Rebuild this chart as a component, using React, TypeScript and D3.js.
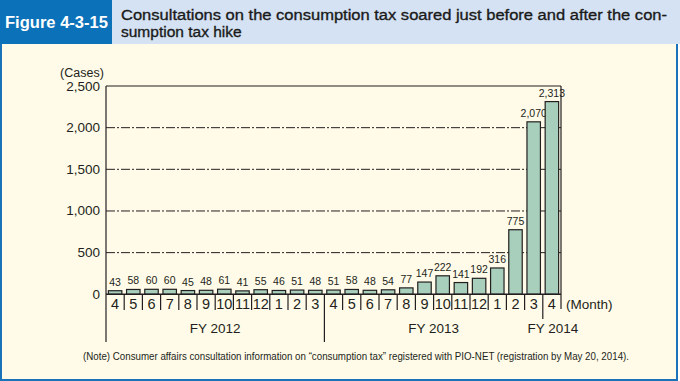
import React from "react";
import * as d3 from "d3";

const MONTHS = ["4","5","6","7","8","9","10","11","12","1","2","3","4","5","6","7","8","9","10","11","12","1","2","3","4"];
const VALUES = [43,58,60,60,45,48,61,41,55,46,51,48,51,58,48,54,77,147,222,141,192,316,775,2070,2313];
const FY_LABELS = ["FY 2012","FY 2013","FY 2014"];
const FY_START = [0,12,24];
const FY_END = [12,24,25];
const Y_TICKS = [0,500,1000,1500,2000,2500];
const TITLE_LINES = ["Consultations on the consumption tax soared just before and after the con-","sumption tax hike"];
const FIGURE_LABEL = "Figure 4-3-15";
const NOTE = "(Note) Consumer affairs consultation information on \u201cconsumption tax\u201d registered with PIO-NET (registration by May 20, 2014).";

const W = 680, H = 381;
const L = 106, R = 561, T = 86, B = 294.3;
const FONT = "'Liberation Sans', Arial, Helvetica, sans-serif";
const NARROW = "'Liberation Sans Narrow', 'Liberation Sans', Arial, sans-serif";
const INK = "#231f20";

export default function App() {
  const y = d3.scaleLinear().domain([0, 2500]).range([B, T]);
  const x = d3.scaleBand<number>().domain(d3.range(VALUES.length)).range([L, R]).padding(0);
  const step = x.step();
  const bw = step * 0.74;
  const fmt = d3.format(",");

  return (
    <svg width={W} height={H} style={{ position: "absolute", left: 0, top: 0 }} xmlns="http://www.w3.org/2000/svg">
      <rect x={0} y={0} width={W} height={H} fill="#ffffff" />
      <rect x={1} y={43} width={676} height={337} fill="#fffbe8" stroke="#1a72b8" strokeWidth={2} />
      <rect x={0} y={0} width={112} height={44} fill="#0b72b9" />
      <rect x={112} y={0} width={568} height={44} fill="#d4e2f3" />
      <text x={5} y={28} fill="#ffffff" fontFamily={NARROW} fontWeight={700} fontSize={16} textLength={103} lengthAdjust="spacingAndGlyphs">{FIGURE_LABEL}</text>
      <text x={121} y={19.5} fill="#1a1a1a" stroke="#1a1a1a" strokeWidth={0.35} fontFamily={FONT} fontSize={15.5} textLength={546} lengthAdjust="spacingAndGlyphs">{TITLE_LINES[0]}</text>
      <text x={121} y={36.5} fill="#1a1a1a" stroke="#1a1a1a" strokeWidth={0.35} fontFamily={FONT} fontSize={15.5}>{TITLE_LINES[1]}</text>

      {Y_TICKS.filter(t => t > 0 && t < 2500).map(t => (
        <line key={t} x1={L} x2={R} y1={y(t)} y2={y(t)} stroke={INK} strokeWidth={1} strokeDasharray="9,2,2,2" />
      ))}
      <line x1={L} x2={R} y1={y(2500)} y2={y(2500)} stroke={INK} strokeWidth={1.2} />
      <line x1={R} x2={R} y1={y(2500)} y2={309} stroke={INK} strokeWidth={1.2} />
      <line x1={L} x2={L} y1={y(2500)} y2={342} stroke={INK} strokeWidth={1.2} />

      <text x={82} y={77} textAnchor="middle" fill={INK} fontFamily={FONT} fontSize={12.5}>(Cases)</text>
      {Y_TICKS.map(t => (
        <text key={t} x={100} y={y(t) + 4.5} textAnchor="end" fill={INK} fontFamily={FONT} fontSize={13.5}>{fmt(t)}</text>
      ))}

      {VALUES.map((v, i) => {
        const cx = (x(i) as number) + step / 2;
        return (
          <g key={i}>
            <rect x={cx - bw / 2} y={y(v)} width={bw} height={B - y(v)} fill="#a8cfbb" stroke={INK} strokeWidth={1.2} />
            <text x={cx} y={y(v) - 5} textAnchor="middle" fill={INK} fontFamily={NARROW} fontSize={10.5}>{fmt(v)}</text>
          </g>
        );
      })}
      <line x1={L} x2={R} y1={B} y2={B} stroke={INK} strokeWidth={1.5} />

      {MONTHS.map((m, i) => {
        const x0 = x(i) as number;
        return (
          <g key={i}>
            {i > 0 && !FY_START.includes(i) && (
              <line x1={x0} x2={x0} y1={B} y2={310} stroke={INK} strokeWidth={1.2} />
            )}
            <text x={x0 + step / 2} y={309} textAnchor="middle" fill={INK} fontFamily={FONT} fontSize={14.5}>{m}</text>
          </g>
        );
      })}
      <line x1={x(FY_START[1]) as number} x2={x(FY_START[1]) as number} y1={B} y2={342} stroke={INK} strokeWidth={1.2} />
      <line x1={x(FY_START[2]) as number} x2={x(FY_START[2]) as number} y1={B} y2={319} stroke={INK} strokeWidth={1.2} />
      <text x={566} y={309} fill={INK} fontFamily={FONT} fontSize={13.5}>(Month)</text>
      {FY_LABELS.map((lab, k) => {
        const a = x(FY_START[k]) as number;
        const b = (x(FY_END[k] - 1) as number) + step;
        const cx = (a + b) / 2 + (k === 2 ? 1 : 0);
        return <text key={lab} x={cx} y={333} textAnchor="middle" fill={INK} fontFamily={FONT} fontSize={13.5}>{lab}</text>;
      })}

      <text x={356} y={360} textAnchor="middle" fill={INK} fontFamily={NARROW} fontSize={10.5} textLength={546} lengthAdjust="spacingAndGlyphs">{NOTE}</text>
    </svg>
  );
}
